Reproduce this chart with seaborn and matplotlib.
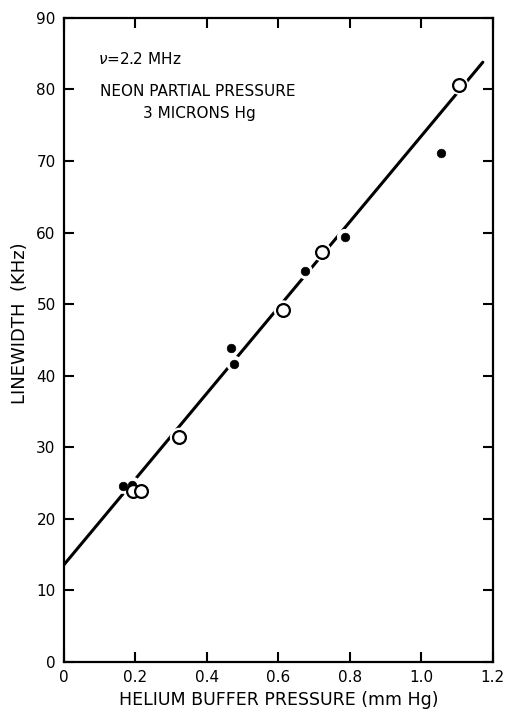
import matplotlib
matplotlib.use("Agg")
import matplotlib.pyplot as plt
import seaborn as sns
import numpy as np
import pandas as pd

# Data
filled_x = [0.165, 0.191, 0.466, 0.476, 0.674, 0.786, 1.055]
filled_y = [24.6, 24.8, 43.9, 41.7, 54.6, 59.4, 71.1]
open_x = [0.194, 0.215, 0.323, 0.613, 0.722, 1.105]
open_y = [23.9, 23.9, 31.4, 49.2, 57.3, 80.6]
fit_x = [0.0, 1.172]
fit_y = [13.6, 83.8]
x_ticks = [0, 0.2, 0.4, 0.6, 0.8, 1.0, 1.2]
x_tick_labels = ["0", "0.2", "0.4", "0.6", "0.8", "1.0", "1.2"]
y_ticks = [0, 10, 20, 30, 40, 50, 60, 70, 80, 90]

sns.set_theme(style="ticks")
plt.rcParams['font.family'] = ['DejaVu Sans']
plt.rcParams['text.color'] = 'black'
plt.rcParams['axes.labelcolor'] = 'black'

fig = plt.figure(figsize=(5.06, 7.13), dpi=100)
ax = fig.add_axes([0.1265, 0.0715, 0.8475, 0.9035])

fit_df = pd.DataFrame({"x": fit_x, "y": fit_y})
sns.lineplot(data=fit_df, x="x", y="y", ax=ax, color="black", lw=2.2, zorder=1)

fdf = pd.DataFrame({"x": filled_x, "y": filled_y})
odf = pd.DataFrame({"x": open_x, "y": open_y})
# white halos that break the fit line around the points
sns.scatterplot(data=fdf, x="x", y="y", ax=ax, s=130, color="white", edgecolor="none", zorder=2)
sns.scatterplot(data=odf, x="x", y="y", ax=ax, s=190, color="white", edgecolor="none", zorder=2)
sns.scatterplot(data=fdf, x="x", y="y", ax=ax, s=38, color="black", edgecolor="black", zorder=3)
sns.scatterplot(data=odf, x="x", y="y", ax=ax, s=85, facecolor="white", edgecolor="black",
                linewidth=1.6, zorder=3)

ax.set_xlim(0, 1.2)
ax.set_ylim(0, 90)
ax.set_xticks(x_ticks)
ax.set_xticklabels(x_tick_labels)
ax.set_yticks(y_ticks)
ax.tick_params(direction="in", length=7, width=1.5, top=True, right=True,
               labelsize=11, colors="black", pad=6)
for s in ax.spines.values():
    s.set_linewidth(1.6)
    s.set_color("black")

ax.set_xlabel("HELIUM BUFFER PRESSURE (mm Hg)", fontsize=12.5, labelpad=4)
ax.set_ylabel("LINEWIDTH  (KHz)", fontsize=13, labelpad=10)
ax.yaxis.set_label_coords(-0.082, 0.526)

ax.text(0.079, 0.936, r"$\nu$=2.2 MHz", transform=ax.transAxes, fontsize=11, va="center")
ax.text(0.084, 0.885, "NEON PARTIAL PRESSURE", transform=ax.transAxes, fontsize=11, va="center")
ax.text(0.315, 0.851, "3 MICRONS Hg", transform=ax.transAxes, fontsize=11, va="center", ha="center")

fig.savefig("out.png", dpi=100, facecolor="white")
